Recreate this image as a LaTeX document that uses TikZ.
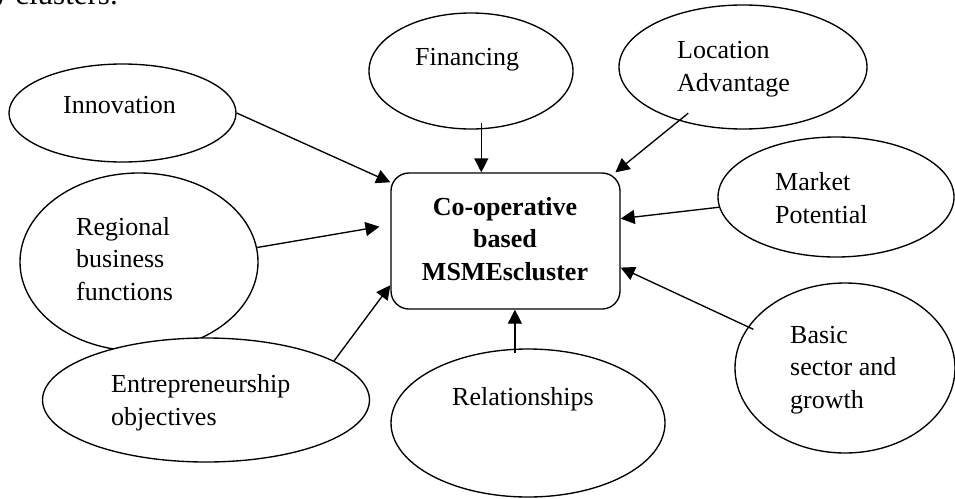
\documentclass[tikz,border=0pt]{standalone}
\usepackage{fontspec}
\setmainfont{Liberation Serif}
\usetikzlibrary{shapes.geometric,arrows.meta}
\begin{document}
\begin{tikzpicture}[x=1pt,y=-1pt,
  ell/.style={ellipse,draw,line width=1.35pt,fill=white,inner sep=0pt},
  lbl/.style={font=\fontsize{26}{32.5}\selectfont,align=left,anchor=base west,inner sep=0pt},
  arr/.style={line width=1.35pt,-{Triangle[length=14pt,width=14pt]}}]
\useasboundingbox (0,0) rectangle (955,498);
% cut-off text of the page above the figure
\node[anchor=base east,inner sep=0pt,font=\fontsize{31}{36}\selectfont] (prev) at (118,4) {w clusters.};
% ellipses
\node[ell,minimum width=227pt,minimum height=98pt] (innov) at (122.5,113) {};
\node[ell,minimum width=238pt,minimum height=178pt] (reg) at (139,262) {};
\node[ell,minimum width=327pt,minimum height=124pt] (ent) at (206,400) {};
\node[ell,minimum width=204pt,minimum height=116pt] (fin) at (471,71) {};
\node[ell,minimum width=248pt,minimum height=124pt] (loc) at (743,67) {};
\node[ell,minimum width=236pt,minimum height=120pt] (mkt) at (836,197) {};
\node[ell,minimum width=274pt,minimum height=148pt] (rel) at (528,423) {};
\node[ell,minimum width=220pt,minimum height=170pt] (bas) at (845,368) {};
% central box
\node[draw,line width=1.35pt,rounded corners=18pt,minimum width=229pt,minimum height=136pt,inner sep=0pt] (box) at (505.5,241) {};
% labels (base = baseline of the last line)
\node[lbl] (tinnov) at (63,113) {Innovation};
\node[lbl] (treg) at (76,300) {Regional\\business\\functions};
\node[lbl] (tent) at (111,425) {Entrepreneurship\\objectives};
\node[lbl] (tfin) at (415,65) {Financing};
\node[lbl] (tloc) at (677,91) {Location\\Advantage};
\node[lbl] (tmkt) at (775,223) {Market\\Potential};
\node[lbl] (trel) at (452,405) {Relationships};
\node[lbl] (tbas) at (790,408) {Basic\\sector and\\growth};
\node[font=\fontsize{26}{32.5}\selectfont\bfseries,align=center,anchor=base,inner sep=0pt] (tbox) at (505,280) {Co-operative\\based\\MSMEscluster};
% arrows
\draw[arr] (innov.east) -- (box.153);
\draw[arr,shorten >=11pt] (reg.7) -- (box.172);
\draw[arr] (ent.17) -- (box.201);
\draw[arr,shorten <=-6pt] (fin.-80) -- (fin.-80 |- box.north);
\draw[arr,shorten <=-12pt] (loc.220) -- (box.32.6);
\draw[arr] (mkt.185) -- (box.11);
\draw[arr,shorten <=-4pt] (rel.100) -- (rel.100 |- box.south);
\draw[arr,shorten <=-6pt] (bas.157) -- (box.-13.6);
\end{tikzpicture}
\end{document}
